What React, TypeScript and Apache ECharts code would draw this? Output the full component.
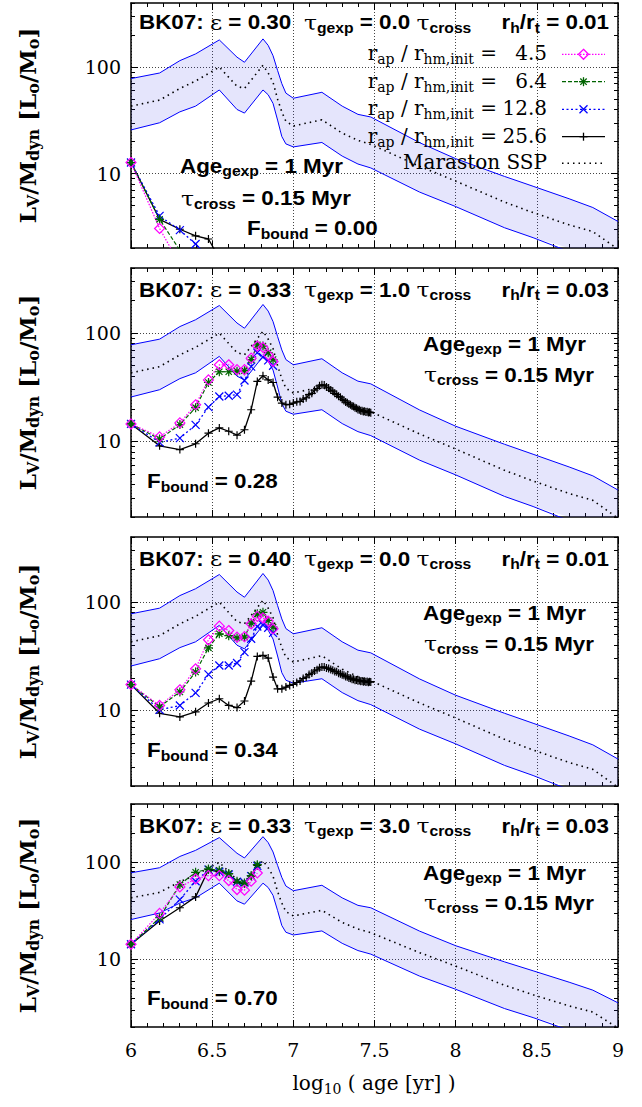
import React, { useEffect, useRef } from 'react';
import * as echarts from 'echarts';

const NB = '\u00a0';

// ---------------- DATA ----------------
// simulation snapshot ages [Myr]
const SNAP_AGE_MYR = [1, 1.5, 2, 2.5, 3, 3.5, 4, 4.5, 5, 5.5, 6, 6.5, 7, 7.5, 8, 8.5, 9, 9.5, 10,
  10.5, 11, 11.5, 12, 12.5, 13, 13.5, 14, 14.5, 15, 15.5, 16, 16.5, 17, 17.5, 18, 18.5, 19, 19.5, 20,
  20.5, 21, 21.5, 22, 22.5, 23, 23.5, 24, 24.5, 25, 25.5, 26, 26.5, 27, 27.5, 28, 28.5, 29, 29.5, 30];

// Maraston SSP (log10 age) with its band
const SSP_LOGAGE = [6.0, 6.176, 6.301, 6.398, 6.544, 6.653, 6.699, 6.813, 6.845, 6.875, 6.903, 6.929, 6.954, 7.0,
  7.176, 7.301, 7.398, 7.477, 7.778, 8.0, 8.301, 8.477, 8.699, 8.845, 9.0];
const SSP_MID = [43, 49, 63, 74, 100, 66, 63, 104, 88, 72, 50, 38, 31, 28, 32, 24, 20.5, 18.8, 11.7, 8.5, 5.4, 4.3, 3.3, 2.85, 1.95];
const SSP_UP = [78, 88, 115, 133, 180, 124, 111, 184, 160, 128, 93, 70, 57, 51, 58, 43, 36, 34, 19.5, 13.8, 9.4, 7.6, 5.8, 4.8, 3.55];
const SSP_LO = [25.7, 30, 38, 43, 61, 40, 37, 61, 55, 45.6, 31.8, 22.3, 19, 17.8, 19.6, 14.6, 12.3, 11.3, 6.7, 4.9, 3.1, 2.5, 1.85, 1.5, 1.2];

// panel 1 (eps 0.30, tgexp 0.0)
const P1_MAG = [12.7, 3.05, 1.4];
const P1_GRN = [12.7, 3.72, 1.9];
const P1_BLU = [12.7, 4.0, 2.94, 2.18, 1.6];
const P1_BLK = [12.7, 3.72, 3.0, 2.6, 2.43, 1.6];
// panel 2 (eps 0.33, tgexp 1.0)
const P2_MAG = [14.5, 11, 14.8, 21.8, 37, 51, 51, 46, 46, 58.7, 76, 74, 63, 54.7];
const P2_GRN = [14.5, 10.5, 14.3, 20.5, 35, 44, 44, 44.5, 45, 57, 78, 76, 66, 57];
const P2_BLU = [14.5, 9.8, 10.7, 14.2, 20.7, 26, 26.4, 27, 36.5, 49, 66, 60, 56, 50];
const P2_BLK = [14.5, 9.1, 8.4, 9.5, 11.9, 13.3, 12.4, 11.4, 12.8, 19.6, 35.8, 40.4, 37, 35, 25.6, 22.6, 21.8, 22, 22.6,
  23.2, 23.4, 24.6, 25.3, 27, 27.8, 29.7, 30.8, 32.6, 33.3, 33.1, 31.8, 31.2, 29.8, 29.1, 27.8, 27.1, 26.1, 25.6, 24.5,
  23.9, 23.1, 22.8, 22.1, 21.8, 21.2, 21, 20.4, 20.2, 19.7, 19.6, 19.2, 19.2, 18.9, 19, 18.7, 18.8, 18.5, 18.6, 18.4];
// panel 3 (eps 0.40, tgexp 0.0)
const P3_MAG = [17.3, 11.1, 15.5, 24.2, 44.9, 60, 54.7, 47.5, 48, 63, 73.8, 71.6, 66.8, 56.7];
const P3_GRN = [17.3, 10.8, 14.8, 22.6, 37.8, 51, 49, 46.7, 47.5, 64, 78, 80.6, 67.7, 58.7];
const P3_BLU = [17.3, 10.1, 11.1, 14.5, 21.5, 26, 26, 27.4, 34.5, 45.9, 59.6, 62, 58, 52];
const P3_BLK = [17.3, 9.4, 8.7, 9.7, 11.7, 12.8, 11.1, 10.6, 12.2, 18.6, 31.5, 32.2, 30.4, 20.3, 15.8, 15.8, 16.4, 17, 17.4,
  18.1, 18.7, 19.7, 20.3, 21.4, 22.1, 23.1, 23.7, 24.7, 25.1, 25.1, 24.6, 24.4, 23.8, 23.5, 22.9, 22.7, 22, 21.8, 21.3,
  21.1, 20.6, 20.4, 19.9, 19.8, 19.4, 19.4, 19, 19.1, 18.8, 18.9, 18.6, 18.7, 18.4, 18.6, 18.3, 18.5, 18.2, 18.4, 18.3];
// panel 4 (eps 0.33, tgexp 3.0)
const P4_MAG = [14.3, 29.7, 55.8, 67.4, 73, 73, 64.9, 52.4, 51.6, 63.8, 77.6];
const P4_GRN = [14.3, 26.8, 59, 78.9, 85.5, 82.8, 76.6, 63.8, 61.4, 73, 94.6];
const P4_BLU = [14.3, 25.8, 41.3, 63.8, 84, 80, 75, 63, 62, 72, 92];
const P4_BLK = [14.3, 24.8, 34, 44, 84, 80, 76, 62, 60, 72, 93];

const PANEL_MAG = [P1_MAG, P2_MAG, P3_MAG, P4_MAG];
const PANEL_GRN = [P1_GRN, P2_GRN, P3_GRN, P4_GRN];
const PANEL_BLU = [P1_BLU, P2_BLU, P3_BLU, P4_BLU];
const PANEL_BLK = [P1_BLK, P2_BLK, P3_BLK, P4_BLK];

const PANEL_EPS = ['0.30', '0.33', '0.40', '0.33'];
const PANEL_TGEXP = ['0.0', '1.0', '0.0', '3.0'];
const PANEL_RHRT = ['0.01', '0.03', '0.01', '0.03'];
const PANEL_FBOUND = ['0.00', '0.28', '0.34', '0.70'];
const LEGEND_RATIO = ['4.5', '6.4', '12.8', '25.6'];

const Y_MAJOR = [10, 100];
const Y_MINOR = [2, 3, 4, 5, 6, 7, 8, 9, 20, 30, 40, 50, 60, 70, 80, 90, 200, 300, 400];

// ---------------- LAYOUT / STYLE ----------------
const GRID_TOP = [3, 268, 537, 804];
const GRID_H = [245, 249, 249, 223];
const GRID_LEFT = 131;
const GRID_RIGHT = 24;
const SANS = 'Liberation Sans';
const SERIF = 'DejaVu Serif';
const BAND_FILL = 'rgba(40,40,230,0.12)';
const SX = 1.12;

const SYM_DIAMOND = 'path://M5,0L10,5L5,10L0,5Z';
const SYM_STAR = 'path://M5,0L5,10M0,5L10,5M1.5,1.5L8.5,8.5M8.5,1.5L1.5,8.5';
const SYM_X = 'path://M0,0L10,10M10,0L0,10';
const SYM_PLUS = 'path://M5,0L5,10M0,5L10,5';

const SERIES_STYLE = [
  { key: 'blk', color: '#000000', dash: 'solid', sym: SYM_PLUS, size: 8, width: 1.3 },
  { key: 'blu', color: '#0000ff', dash: [2, 2.5], sym: SYM_X, size: 8, width: 1.3 },
  { key: 'grn', color: '#006400', dash: [4, 2], sym: SYM_STAR, size: 9, width: 1.2 },
  { key: 'mag', color: '#ff00ff', dash: [1.5, 1.5], sym: SYM_DIAMOND, size: 10, width: 1.2 },
];

const toXY = (vals: number[]) => vals.map((v, i) => [Math.log10(SNAP_AGE_MYR[i] * 1e6), v]);
const sspXY = (vals: number[]) => vals.map((v, i) => [SSP_LOGAGE[i], v]);

const boldRich = {
  b: { fontFamily: SANS, fontWeight: 'bold', fontSize: 20, fill: '#000' },
  s: { fontFamily: SANS, fontWeight: 'bold', fontSize: 14, fill: '#000', padding: [12, 0, 0, 0] },
  g: { fontFamily: SERIF, fontSize: 21, fill: '#000' },
};
const serifRich = {
  r: { fontFamily: SERIF, fontSize: 20, fill: '#000' },
  s: { fontFamily: SERIF, fontSize: 14, fill: '#000', padding: [12, 0, 0, 0] },
};
const titleRich = {
  m: { fontFamily: SERIF, fontWeight: 'bold', fontSize: 23, fill: '#000' },
  s: { fontFamily: SERIF, fontWeight: 'bold', fontSize: 16, fill: '#000', padding: [13, 0, 0, 0] },
};

function txt(x: number, y: number, text: string, rich: any, align = 'left', scaleX = 1, rotation = 0) {
  return {
    type: 'text', x, y, scaleX, rotation, z: 100, silent: true,
    style: { text, align, verticalAlign: 'middle', rich, fill: '#000' },
  };
}

function markerGraphic(kind: string, cx: number, cy: number, color: string) {
  const r = 5;
  const ls = { stroke: color, lineWidth: 1.3 };
  const ln = (x1: number, y1: number, x2: number, y2: number) => ({ type: 'line', shape: { x1, y1, x2, y2 }, style: ls, z: 100 });
  if (kind === 'mag') {
    return [{ type: 'polygon', shape: { points: [[cx, cy - r], [cx + r, cy], [cx, cy + r], [cx - r, cy]] }, style: { fill: 'none', stroke: color, lineWidth: 1.3 }, z: 100 }];
  }
  if (kind === 'grn') {
    return [ln(cx - 4.5, cy, cx + 4.5, cy), ln(cx, cy - 4.5, cx, cy + 4.5), ln(cx - 3.2, cy - 3.2, cx + 3.2, cy + 3.2), ln(cx + 3.2, cy - 3.2, cx - 3.2, cy + 3.2)];
  }
  if (kind === 'blu') {
    return [ln(cx - 4, cy - 4, cx + 4, cy + 4), ln(cx + 4, cy - 4, cx - 4, cy + 4)];
  }
  return [ln(cx - 4, cy, cx + 4, cy), ln(cx, cy - 4, cx, cy + 4)];
}

function buildOption() {
  const grid: any[] = [];
  const xAxis: any[] = [];
  const yAxis: any[] = [];
  const series: any[] = [];
  const graphic: any[] = [];

  const border = { show: true, onZero: false, lineStyle: { color: '#000', width: 1.5 } };
  const split = { show: true, lineStyle: { color: '#444', width: 1, type: [1, 2] } };

  for (let i = 0; i < 4; i++) {
    grid.push({ left: GRID_LEFT, right: GRID_RIGHT, top: GRID_TOP[i], height: GRID_H[i], outerBoundsMode: 'none' });
    const xb = xAxis.length;
    xAxis.push({
      gridIndex: i, type: 'value', min: 6, max: 9, interval: 0.5, position: 'bottom',
      axisLine: border,
      axisTick: { show: true, inside: true, length: 7, lineStyle: { color: '#000', width: 1 } },
      minorTick: { show: true, splitNumber: 5, length: 4, lineStyle: { color: '#000', width: 1 } },
      axisLabel: { show: i === 3, fontFamily: SERIF, fontSize: 19, color: '#000', margin: 13 },
      splitLine: split,
    });
    xAxis.push({
      gridIndex: i, type: 'value', min: 6, max: 9, interval: 0.5, position: 'top',
      axisLine: border,
      axisTick: { show: true, inside: true, length: 7, lineStyle: { color: '#000', width: 1 } },
      minorTick: { show: true, splitNumber: 5, length: 4, lineStyle: { color: '#000', width: 1 } },
      axisLabel: { show: false }, splitLine: { show: false },
    });
    const yl = yAxis.length;
    for (const pos of ['left', 'right']) {
      yAxis.push({
        gridIndex: i, type: 'log', logBase: 10, min: 2, max: 400, position: pos,
        axisLine: border,
        axisTick: { show: true, inside: true, length: 7, customValues: Y_MAJOR, lineStyle: { color: '#000', width: 1 } },
        axisLabel: { show: pos === 'left', customValues: Y_MAJOR, fontFamily: SERIF, fontSize: 19, color: '#000', margin: 10 },
        splitLine: pos === 'left' ? split : { show: false },
        minorTick: { show: false },
      });
      yAxis.push({
        gridIndex: i, type: 'log', logBase: 10, min: 2, max: 400, position: pos,
        axisLine: { show: false },
        axisTick: { show: true, inside: true, length: 4, customValues: Y_MINOR, lineStyle: { color: '#000', width: 1 } },
        axisLabel: { show: false, customValues: Y_MINOR },
        splitLine: { show: false }, minorTick: { show: false },
      });
    }

    // band
    series.push({
      type: 'custom', xAxisIndex: xb, yAxisIndex: yl, silent: true, z: 1,
      data: [[6, 10]],
      renderItem: (params: any, api: any) => {
        const pts: number[][] = [];
        for (let k = 0; k < SSP_LOGAGE.length; k++) pts.push(api.coord([SSP_LOGAGE[k], SSP_UP[k]]));
        for (let k = SSP_LOGAGE.length - 1; k >= 0; k--) pts.push(api.coord([SSP_LOGAGE[k], SSP_LO[k]]));
        const cs = params.coordSys;
        return {
          type: 'polygon',
          shape: { points: echarts.graphic.clipPointsByRect(pts, { x: cs.x, y: cs.y, width: cs.width, height: cs.height }) },
          style: { fill: BAND_FILL, stroke: 'none' },
        };
      },
    });
    for (const arr of [SSP_UP, SSP_LO]) {
      series.push({
        type: 'line', xAxisIndex: xb, yAxisIndex: yl, data: sspXY(arr), symbol: 'none', silent: true, z: 2,
        lineStyle: { color: '#0000ff', width: 1 },
      });
    }
    series.push({
      type: 'line', name: 'Maraston SSP', xAxisIndex: xb, yAxisIndex: yl, data: sspXY(SSP_MID), symbol: 'none', silent: true, z: 2,
      lineStyle: { color: '#000', width: 1.6, type: [1.5, 4] },
    });

    const dataByKey: any = { blk: PANEL_BLK[i], blu: PANEL_BLU[i], grn: PANEL_GRN[i], mag: PANEL_MAG[i] };
    for (const st of SERIES_STYLE) {
      series.push({
        type: 'line', xAxisIndex: xb, yAxisIndex: yl, data: toXY(dataByKey[st.key]), silent: true, z: 3,
        symbol: st.sym, symbolSize: st.size, showSymbol: true,
        itemStyle: { color: 'rgba(0,0,0,0)', borderColor: st.color, borderWidth: 1.2 },
        lineStyle: { color: st.color, width: st.width, type: st.dash },
      });
    }

    // panel labels
    const t = GRID_TOP[i];
    const h = GRID_H[i];
    const hdrY = i === 0 ? 22 : t + 21.5;
    graphic.push(txt(139, hdrY, `{b|BK07:${NB}}{g|ε}{b|${NB}=${NB}${PANEL_EPS[i]}}`, boldRich, 'left', SX));
    graphic.push(txt(304, hdrY, `{g|τ}{s|gexp}{b|${NB}=${NB}${PANEL_TGEXP[i]}${NB}}{g|τ}{s|cross}`, boldRich, 'left', SX));
    graphic.push(txt(609, hdrY, `{b|r}{s|h}{b|/r}{s|t}{b|${NB}=${NB}${PANEL_RHRT[i]}}`, boldRich, 'right', SX));
    let ageX = 423, ageY = t + 75.5, tcY = t + 106.5, fbX = 147, fbY = t + 213;
    if (i === 0) { ageX = 180; ageY = 165.5; tcY = 198; fbX = 247; fbY = 228; }
    if (i === 3) { ageY = 872.5; tcY = 902.5; fbY = 998; }
    graphic.push(txt(ageX, ageY, `{b|Age}{s|gexp}{b|${NB}=${NB}1${NB}Myr}`, boldRich, 'left', SX));
    graphic.push(txt(ageX + 1, tcY, `{g|τ}{s|cross}{b|${NB}=${NB}0.15${NB}Myr}`, boldRich, 'left', SX));
    graphic.push(txt(fbX, fbY, `{b|F}{s|bound}{b|${NB}=${NB}${PANEL_FBOUND[i]}}`, boldRich, 'left', SX));

    // y-axis title
    graphic.push(txt(27, t + h / 2, `{m|L}{s|V}{m|/M}{s|dyn}{m|${NB}[L}{s|o}{m|/M}{s|o}{m|]}`, titleRich, 'center', 1, Math.PI / 2));
  }

  // legend (panel 1)
  const rows = [54.3, 81.7, 109.3, 136.7, 163.3];
  const legKeys = ['mag', 'grn', 'blu', 'blk'];
  const legStyle: any = { mag: SERIES_STYLE[3], grn: SERIES_STYLE[2], blu: SERIES_STYLE[1], blk: SERIES_STYLE[0] };
  for (let r = 0; r < 4; r++) {
    const y = rows[r];
    const st = legStyle[legKeys[r]];
    graphic.push(txt(497, y - 1, `{r|r}{s|ap}{r|${NB}/${NB}r}{s|hm,init}{r|${NB}=}`, serifRich, 'right'));
    graphic.push(txt(547, y - 1, `{r|${LEGEND_RATIO[r]}}`, serifRich, 'right'));
    graphic.push({
      type: 'line', shape: { x1: 562, y1: y, x2: 605, y2: y }, z: 100,
      style: { stroke: st.color, lineWidth: st.width, lineDash: st.dash === 'solid' ? null : st.dash },
    });
    graphic.push(...markerGraphic(legKeys[r], 583.5, y, st.color));
  }
  graphic.push(txt(547, rows[4] - 1, `{r|Maraston${NB}SSP}`, serifRich, 'right'));
  graphic.push({
    type: 'line', shape: { x1: 562, y1: rows[4], x2: 605, y2: rows[4] }, z: 100,
    style: { stroke: '#000', lineWidth: 1.6, lineDash: [1.5, 4] },
  });

  // x-axis title
  graphic.push(txt(374, 1083, `{r|log}{s|10}{r|${NB}(${NB}age${NB}[yr]${NB})}`, serifRich, 'center'));

  return { animation: false, backgroundColor: '#fff', grid, xAxis, yAxis, series, graphic };
}

export default function App() {
  const ref = useRef<HTMLDivElement>(null);
  useEffect(() => {
    if (!ref.current) return;
    const chart = echarts.init(ref.current, null, { renderer: 'svg' });
    chart.setOption(buildOption() as any);
    return () => chart.dispose();
  }, []);
  return (
    <div
      ref={ref}
      style={{ position: 'absolute', left: 0, top: 0, width: 642, height: 1107, background: '#fff' }}
    />
  );
}
